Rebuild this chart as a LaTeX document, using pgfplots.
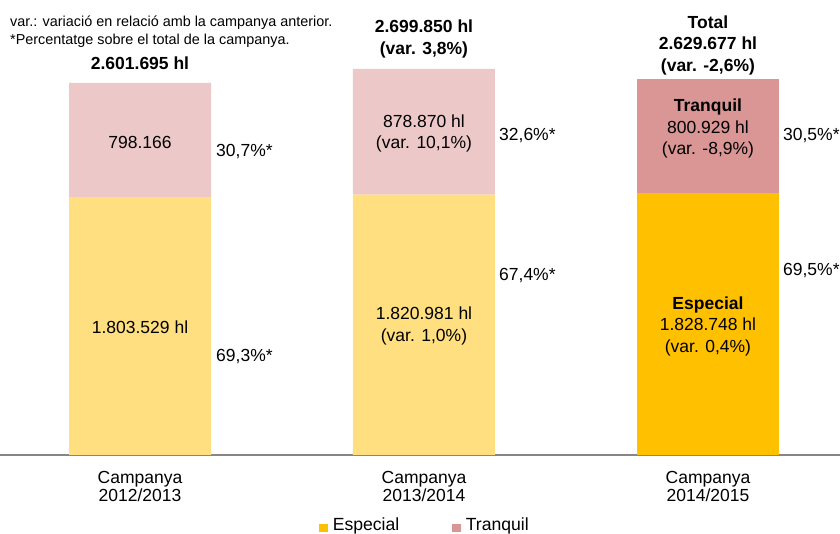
\documentclass[border=0pt]{standalone}
\usepackage{pgfplots}
\pgfplotsset{compat=1.18}
\usepackage{fontspec}
\setmainfont{Liberation Sans}
\definecolor{espL}{RGB}{255,223,128}
\definecolor{espD}{RGB}{255,192,0}
\definecolor{traL}{RGB}{236,200,200}
\definecolor{traD}{RGB}{217,150,148}
\definecolor{axgray}{RGB}{134,134,134}
\newcommand{\mf}{\fontsize{17.5}{21.5}\selectfont}
\begin{document}
\begin{tikzpicture}
\useasboundingbox (0,0) rectangle (840pt,534pt);
\node[anchor=north west, align=left, inner sep=0pt, font=\fontsize{14.4}{18}\selectfont] at (10pt,518pt)
  {var.: variació en relació amb la campanya anterior.\\*Percentatge sobre el total de la campanya.};
\begin{axis}[
  at={(0,79pt)}, anchor=south west,
  scale only axis, width=840pt, height=455pt,
  ybar stacked, bar width=142pt,
  xmin=-0.493, xmax=2.465, ymin=0, ymax=3181818,
  axis x line*=bottom, axis y line=none,
  x axis line style={axgray, line width=1.2pt, -},
  xtick={0,1,2}, major tick length=0pt,
  xticklabels={Campanya\\2012/2013, Campanya\\2013/2014, Campanya\\2014/2015},
  xticklabel style={align=center, font=\fontsize{17.5}{18.2}\selectfont, yshift=-13pt},
  ytick=\empty,
  clip=false,
  legend style={at={(0.506,-0.154)}, anchor=center, draw=none, fill=none,
    legend columns=2, font=\fontsize{17.6}{21.5}\selectfont,
    /tikz/every odd column/.style={column sep=3pt},
    /tikz/every even column/.style={column sep=51pt},
    legend cell align=left},
  legend image code/.code={\fill[#1, draw=none] (0pt,-7pt) rectangle (8.5pt,1.5pt);},
]
\addplot[fill=espL, draw=none, forget plot] coordinates {(0,1803529) (1,1820981) (2,0)};
\addplot[fill=espD, draw=none] coordinates {(0,0) (1,0) (2,1828748)};
\addplot[fill=traL, draw=none, forget plot] coordinates {(0,798166) (1,878870) (2,0)};
\addplot[fill=traD, draw=none] coordinates {(0,0) (1,0) (2,800929)};
\legend{Especial, Tranquil}
\coordinate (t0) at (axis cs:0,2188800);
\coordinate (e0) at (axis cs:0,895100);
\coordinate (t1) at (axis cs:1,2248300);
\coordinate (e1) at (axis cs:1,902100);
\coordinate (t2) at (axis cs:2,2283200);
\coordinate (e2) at (axis cs:2,902100);
\end{axis}
% inside labels (drawn above the bars)
\node[font=\mf, align=center] at (t0) {798.166};
\node[font=\mf, align=center] at (e0) {1.803.529 hl};
\node[font=\mf, align=center] at (t1) {878.870 hl\\(var. 10,1\%)};
\node[font=\mf, align=center] at (e1) {1.820.981 hl\\(var. 1,0\%)};
\node[font=\mf, align=center] at (t2) {\textbf{Tranquil}\\800.929 hl\\(var. -8,9\%)};
\node[font=\mf, align=center] at (e2) {\textbf{Especial}\\1.828.748 hl\\(var. 0,4\%)};
\begin{axis}[
  at={(0,79pt)}, anchor=south west,
  scale only axis, width=840pt, height=455pt,
  xmin=-0.493, xmax=2.465, ymin=0, ymax=3181818,
  hide axis, clip=false,
]
% totals
\node[font=\mf\bfseries, align=center] at (axis cs:0,2741300) {2.601.695 hl};
\node[font=\mf\bfseries, align=center] at (axis cs:1,2909100) {2.699.850 hl\\(var. 3,8\%)};
\node[font=\mf\bfseries, align=center] at (axis cs:2,2867100) {Total\\2.629.677 hl\\(var. -2,6\%)};
% percentages
\node[font=\mf, anchor=west, inner sep=0pt, xshift=5pt] at (axis cs:0.25,2118900) {30,7\%*};
\node[font=\mf, anchor=west, inner sep=0pt, xshift=5pt] at (axis cs:0.25,685300) {69,3\%*};
\node[font=\mf, anchor=west, inner sep=0pt, xshift=4pt] at (axis cs:1.25,2230800) {32,6\%*};
\node[font=\mf, anchor=west, inner sep=0pt, xshift=4pt] at (axis cs:1.25,1251700) {67,4\%*};
\node[font=\mf, anchor=west, inner sep=0pt, xshift=4pt] at (axis cs:2.25,2230800) {30,5\%*};
\node[font=\mf, anchor=west, inner sep=0pt, xshift=4pt] at (axis cs:2.25,1286700) {69,5\%*};
\end{axis}
\end{tikzpicture}
\end{document}
